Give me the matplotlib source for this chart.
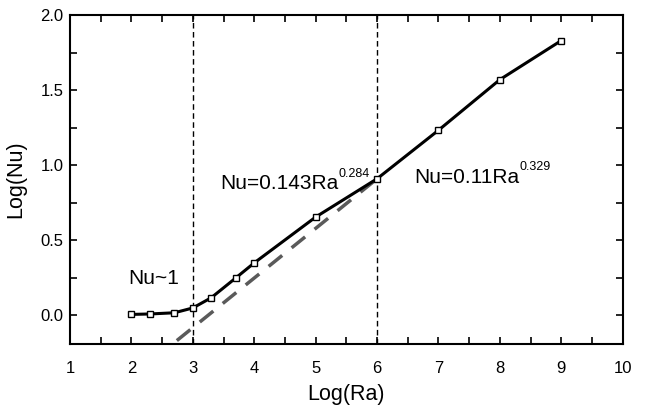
import matplotlib
matplotlib.use("Agg")
import matplotlib.pyplot as plt
from matplotlib.ticker import MultipleLocator, FormatStrFormatter

plt.rcParams['font.family'] = ['Liberation Sans', 'DejaVu Sans']

log_ra = [2, 2.3, 2.7, 3, 3.3, 3.7, 4, 5, 6, 7, 8, 9]
log_nu = [0.007, 0.01, 0.018, 0.05, 0.118, 0.25, 0.35, 0.655, 0.91, 1.233, 1.57, 1.83]

fit_x = [2.74, 6.0]
fit_y = [-0.167, 0.91]

vlines_x = [3, 6]

fig = plt.figure(figsize=(6.45, 4.12), dpi=100)
ax = fig.add_axes([0.1085, 0.165, 0.857, 0.7986])

for xv in vlines_x:
    ax.axvline(xv, color='black', lw=1.0, ls=(0, (4, 2.5)), zorder=1)

ax.plot(fit_x, fit_y, color='#5a5a5a', lw=2.5, ls=(0, (5, 3.5)), zorder=2)
ax.plot(log_ra, log_nu, color='black', lw=2.2, marker='s', ms=4.8,
        mfc='white', mec='black', mew=1.0, zorder=3)


def label_with_sup(x, y, main, sup):
    t = ax.text(x, y, main, fontsize=15, va='baseline', ha='left')
    ax.annotate(sup, xy=(1, 0), xycoords=t, xytext=(0.3, 12),
                textcoords='offset points', fontsize=9, va='baseline', ha='left')
    return t


ax.text(1.945, 0.207, 'Nu~1', fontsize=15, va='baseline', ha='left')
label_with_sup(3.443, 0.84, 'Nu=0.143Ra', '0.284')
label_with_sup(6.60, 0.885, 'Nu=0.11Ra', '0.329')

ax.set_xlim(1, 10)
ax.set_ylim(-0.19, 2.0)
ax.xaxis.set_major_locator(MultipleLocator(1))
ax.xaxis.set_minor_locator(MultipleLocator(0.5))
ax.yaxis.set_major_locator(MultipleLocator(0.5))
ax.yaxis.set_minor_locator(MultipleLocator(0.25))
ax.yaxis.set_major_formatter(FormatStrFormatter('%.1f'))
ax.tick_params(which='both', direction='in', top=True, right=True, length=5, width=1.2, labelsize=12)
ax.tick_params(axis='x', which='major', pad=12)
ax.tick_params(axis='y', which='major', pad=4.5)
for s in ax.spines.values():
    s.set_linewidth(1.5)

ax.set_xlabel('Log(Ra)', fontsize=15.5, labelpad=6)
ax.set_ylabel('Log(Nu)', fontsize=15.5, labelpad=10)

fig.savefig('out.png', dpi=100)
